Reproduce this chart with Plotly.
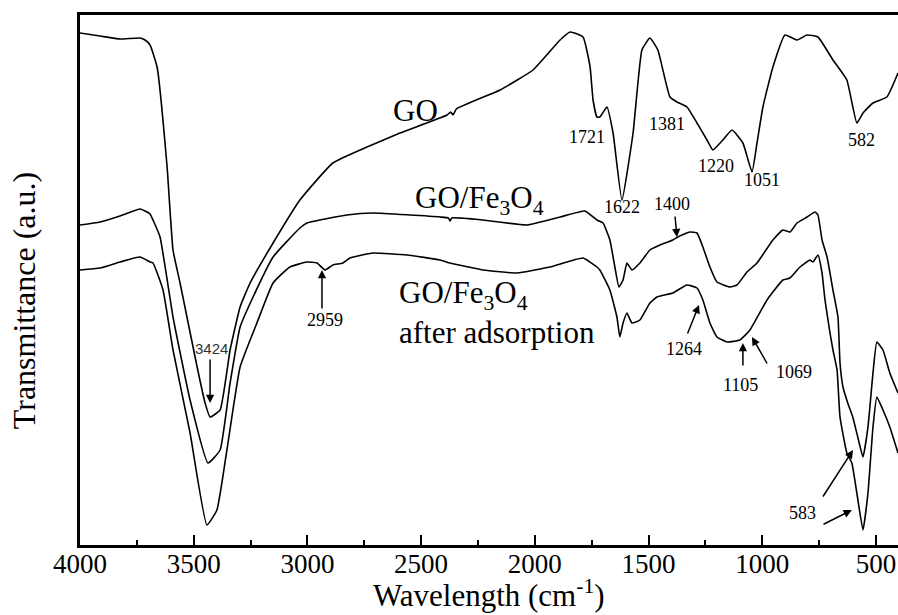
import plotly.graph_objects as go

# ---------------- data ----------------
# wavenumber (cm-1) and transmittance (arbitrary units)
go_wn = [4000, 3912, 3824, 3736, 3714, 3692, 3661, 3617, 3591, 3560, 3485, 3450, 3428,
         3384, 3340, 3296, 3252, 3151, 3033, 2888, 2738, 2593, 2386, 2370, 2360, 2345,
         2153, 2008, 1889, 1845, 1788, 1757, 1744, 1727, 1714, 1683, 1656, 1617, 1568,
         1529, 1494, 1459, 1406, 1375, 1331, 1287, 1243, 1217, 1173, 1133, 1085, 1045,
         1023, 997, 953, 900, 847, 803, 755, 689, 628, 584, 557, 513, 452, 403]
go_t = [512, 509, 506, 507, 505, 500, 478, 378, 295, 262, 178, 142, 128,
        135, 195, 238, 262, 302, 345, 382, 398, 412, 430, 433, 430, 436,
        455, 475, 505, 513, 508, 478, 445, 428, 428, 438, 412, 345, 412,
        495, 507, 495, 448, 443, 438, 422, 405, 395, 405, 415, 402, 373,
        402, 438, 478, 510, 505, 510, 508, 485, 465, 422, 432, 442, 448, 472]

fe_wn = [4000, 3912, 3824, 3736, 3714, 3692, 3679, 3648, 3591, 3516, 3437, 3384, 3340,
         3296, 3239, 3151, 3033, 3002, 2826, 2712, 2417, 2380, 2373, 2365, 2228, 2035,
         1889, 1780, 1727, 1700, 1670, 1648, 1630, 1612, 1595, 1573, 1538, 1494, 1450,
         1393, 1371, 1318, 1287, 1261, 1230, 1199, 1142, 1111, 1067, 1023, 953, 909,
         878, 847, 803, 768, 755, 737, 715, 689, 667, 658, 645, 624, 602, 580, 557,
         535, 513, 496, 469, 439, 403]
fe_t = [320, 323, 329, 336, 334, 331, 325, 308, 228, 145, 82, 95, 162,
        218, 248, 288, 317, 322, 330, 332, 328, 327, 324, 327, 325, 320,
        328, 334, 325, 322, 305, 278, 258, 265, 282, 275, 282, 295, 300,
        305, 308, 313, 312, 298, 278, 263, 258, 260, 273, 282, 305, 315,
        313, 322, 328, 333, 330, 305, 288, 255, 228, 182, 158, 142, 128, 108, 88,
        118, 172, 203, 195, 172, 152]

ad_wn = [4000, 3912, 3824, 3736, 3692, 3679, 3635, 3591, 3516, 3442, 3398, 3354, 3296,
         3222, 3151, 3077, 3002, 2958, 2923, 2888, 2844, 2813, 2712, 2562, 2417, 2373,
         2228, 2079, 1933, 1788, 1727, 1714, 1670, 1639, 1626, 1612, 1595, 1573, 1538,
         1494, 1463, 1393, 1331, 1287, 1261, 1230, 1199, 1155, 1098, 1054, 979, 909,
         878, 834, 790, 777, 755, 737, 724, 702, 689, 671, 658, 628, 606, 584, 557,
         535, 513, 496, 469, 439, 403]
ad_t = [275, 277, 283, 288, 283, 282, 255, 195, 112, 20, 35, 95, 178,
        222, 262, 278, 283, 282, 275, 280, 282, 287, 292, 290, 285, 282,
        275, 272, 278, 287, 278, 275, 255, 228, 208, 222, 232, 222, 225,
        242, 248, 252, 260, 257, 245, 222, 208, 203, 205, 215, 245, 265,
        267, 278, 285, 283, 290, 272, 245, 212, 195, 175, 128, 92, 82, 52, 15,
        52, 118, 148, 135, 118, 92]

tick_vals = [4000, 3500, 3000, 2500, 2000, 1500, 1000, 500]
tick_text = ["4000", "3500", "3000", "2500", "2000", "1500", "1000", "500"]

# curve labels: (text, wavenumber, T, anchor)
curve_labels = [
    ("GO", 2523, 435, "center"),
    ("GO/Fe<sub>3</sub>O<sub>4</sub>", 2536, 345, "left"),
    ("GO/Fe<sub>3</sub>O<sub>4</sub>", 2606, 250, "left"),
    ("after adsorption", 2606, 213, "left"),
]

# peak labels: (text, wavenumber, T)
peak_labels = [
    ("1721", 1771, 408), ("1622", 1617, 338), ("1381", 1419, 421),
    ("1220", 1203, 379), ("1051", 1001, 365), ("582", 562, 405),
    ("1400", 1397, 341), ("2959", 2923, 225), ("1264", 1344, 196),
    ("1105", 1094, 160), ("1069", 861, 173), ("583", 825, 32),
]

# arrows: (tail wn, tail T, head wn, head T)
arrows = [
    (1384, 330, 1375, 308),
    (3428, 187, 3428, 142),
    (2936, 235, 2936, 275),
    (1331, 210, 1278, 240),
    (1085, 178, 1085, 202),
    (975, 180, 1045, 208),
    (737, 47, 601, 95),
    (737, 20, 606, 35),
]

# ---------------- figure ----------------
SERIF = "Liberation Serif"
fig = go.Figure()
for wn, t in [(go_wn, go_t), (fe_wn, fe_t), (ad_wn, ad_t)]:
    fig.add_trace(go.Scatter(x=wn, y=t, mode="lines",
                             line=dict(color="black", width=1.6, shape="spline", smoothing=0.4),
                             showlegend=False, hoverinfo="skip"))

for txt, x, y, anc in curve_labels:
    fig.add_annotation(x=x, y=y, text=txt, showarrow=False, xanchor=anc, yanchor="middle",
                       font=dict(family=SERIF, size=31, color="black"))

for txt, x, y in peak_labels:
    fig.add_annotation(x=x, y=y, text=txt, showarrow=False,
                       font=dict(family=SERIF, size=18, color="black"))

fig.add_annotation(x=3420, y=197, text="3424", showarrow=False,
                   font=dict(family="Liberation Sans", size=15, color="#333333"))

for tx, ty, hx, hy in arrows:
    fig.add_annotation(x=hx, y=hy, ax=tx, ay=ty, xref="x", yref="y", axref="x", ayref="y",
                       text="", showarrow=True, arrowhead=2, arrowsize=1.1, arrowwidth=1.5,
                       arrowcolor="black", standoff=0, startstandoff=0)

# axis titles as text annotations (exact placement as in the reference)
fig.add_annotation(xref="paper", yref="paper", x=0, y=0.46, xshift=-56,
                   text="Transmittance (a.u.)", textangle=-90, showarrow=False,
                   xanchor="center", yanchor="middle",
                   font=dict(family=SERIF, size=32, color="black"))
fig.add_annotation(xref="paper", yref="paper", x=0.5, y=0, yshift=-48,
                   text="Wavelength (cm<sup>-1</sup>)", showarrow=False,
                   xanchor="center", yanchor="middle",
                   font=dict(family=SERIF, size=31, color="black"))

fig.update_layout(
    template="none",
    width=898, height=615,
    margin=dict(l=80, r=0, t=15, b=70),
    plot_bgcolor="white", paper_bgcolor="white",
    font=dict(family=SERIF, color="black"),
    xaxis=dict(range=[4000, 403], tickvals=tick_vals, ticktext=tick_text,
               ticks="inside", ticklen=10, tickwidth=2, tickcolor="black",
               ticklabelstandoff=-7,
               minor=dict(dtick=250, tick0=0, ticks="inside", ticklen=5, tickwidth=2, tickcolor="black"),
               showline=True, linewidth=2.5, linecolor="black", mirror=True,
               showgrid=False, zeroline=False,
               tickfont=dict(family=SERIF, size=27, color="black")),
    yaxis=dict(range=[0, 530], showticklabels=False, ticks="",
               showline=True, linewidth=2.5, linecolor="black",
               showgrid=False, zeroline=False),
)

fig.write_html("out.html")
